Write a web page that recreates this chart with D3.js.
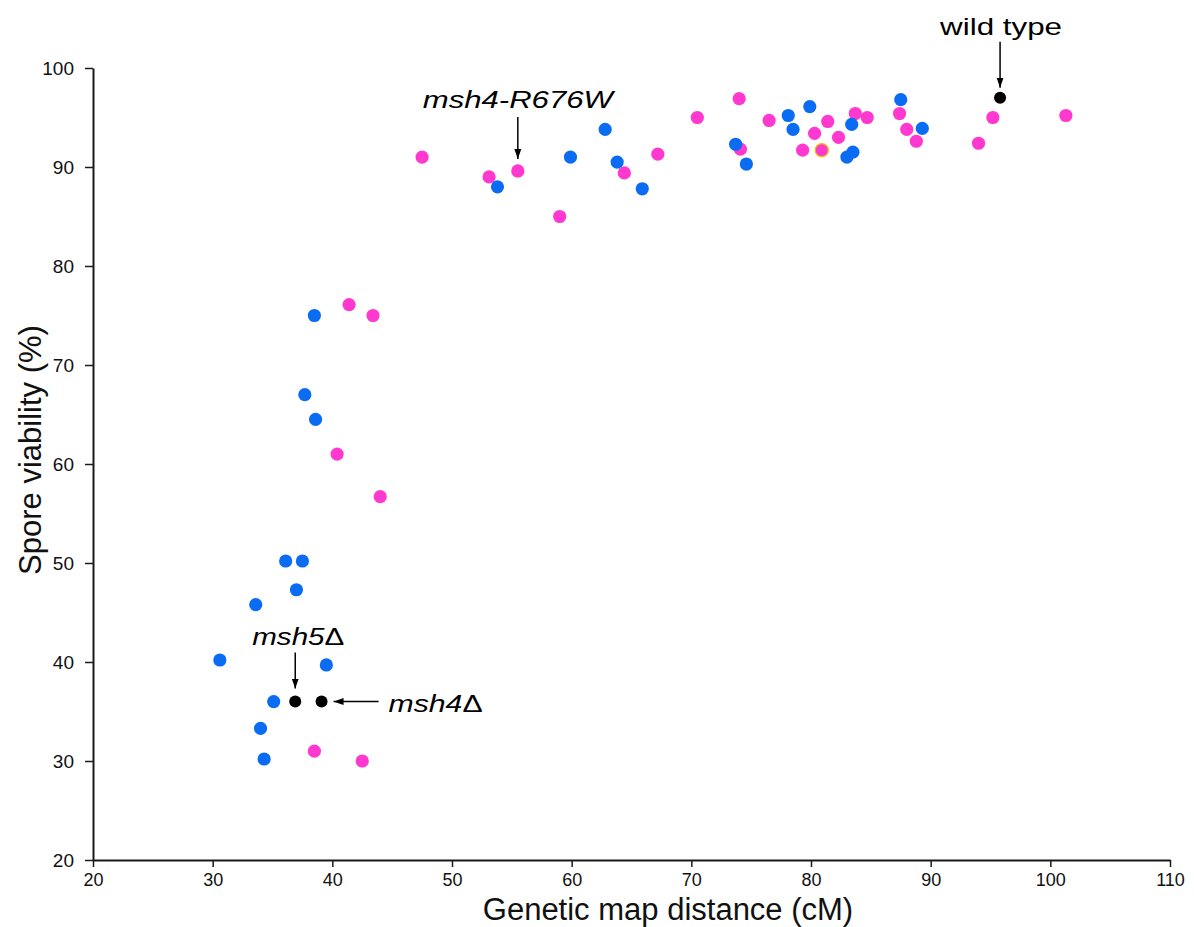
<!DOCTYPE html>
<html>
<head>
<meta charset="utf-8">
<script src="https://cdn.jsdelivr.net/npm/d3@7"></script>
<style>
  html, body { margin: 0; padding: 0; background: #fff; }
  svg { display: block; font-family: "Liberation Sans", Arial, sans-serif; }
</style>
</head>
<body>
<svg id="chart" width="1194" height="927"></svg>
<script>
// Genetic map distance (cM) vs spore viability (%)
const xTicks = [20, 30, 40, 50, 60, 70, 80, 90, 100, 110];
const yTicks = [20, 30, 40, 50, 60, 70, 80, 90, 100];

// blue series
const blueX = [53.8, 59.9, 62.8, 63.8, 65.9, 73.7, 74.6, 78.1, 78.5, 79.9, 83.4, 83.5, 83.0, 87.5, 89.3,
               38.5, 37.7, 38.6, 36.1, 37.5, 37.0, 33.6, 30.6, 39.5, 35.1, 34.0, 34.3];
const blueY = [88.0, 91.0, 93.8, 90.5, 87.8, 92.3, 90.3, 95.2, 93.8, 96.1, 94.3, 91.5, 91.0, 96.8, 93.9,
               75.0, 67.0, 64.5, 50.2, 50.2, 47.3, 45.8, 40.2, 39.7, 36.0, 33.3, 30.2];

// magenta series
const pinkX = [47.5, 53.1, 55.5, 59.0, 64.4, 67.2, 70.5, 74.0, 76.5, 74.1, 80.3, 81.4, 79.3, 80.9, 82.3,
               83.7, 84.7, 87.4, 88.0, 88.8, 95.2, 94.0, 101.3, 41.4, 43.4, 40.4, 44.0, 38.5, 42.5];
const pinkY = [91.0, 89.0, 89.6, 85.0, 89.4, 91.3, 95.0, 96.9, 94.7, 91.8, 93.4, 94.6, 91.7, 91.7, 93.0,
               95.4, 95.0, 95.4, 93.8, 92.6, 95.0, 92.4, 95.2, 76.1, 75.0, 61.0, 56.7, 31.0, 30.0];
const pinkOutlined = [13]; // point drawn with a yellow rim

// reference strains (black)
const refNames = ["wild type", "msh5", "msh4"];
const refX = [95.8, 36.9, 39.1];
const refY = [97.0, 36.0, 36.0];

const svg = d3.select("#chart");
const x = d3.scaleLinear().domain([20, 110]).range([93, 1170]);
const y = d3.scaleLinear().domain([20, 100]).range([860, 68]);

const axisColor = "#1a1a1a";

// axes
const gx = svg.append("g").attr("transform", "translate(0,860)")
  .call(d3.axisBottom(x).tickValues(xTicks).tickSize(7).tickSizeOuter(0).tickPadding(6));
const gy = svg.append("g").attr("transform", "translate(93,0)")
  .call(d3.axisLeft(y).tickValues(yTicks).tickSize(8).tickSizeOuter(0).tickPadding(11));
[gx, gy].forEach(g => {
  g.select(".domain").attr("stroke", axisColor).attr("stroke-width", 2);
  g.selectAll(".tick line").attr("stroke", axisColor).attr("stroke-width", 1.5);
  g.selectAll(".tick text").attr("fill", "#111")
    .style("font-family", "'Liberation Sans', Arial, sans-serif");
});
gy.selectAll(".tick text").style("font-size", "19px");
gx.selectAll(".tick text").style("font-size", "18px").attr("dy", "0.72em");

// axis titles
svg.append("text").attr("x", 668).attr("y", 920).attr("text-anchor", "middle")
  .style("font-size", "31px").attr("fill", "#111").text("Genetic map distance (cM)");
svg.append("text").attr("transform", "translate(41,450) rotate(-90)").attr("text-anchor", "middle")
  .style("font-size", "31px").attr("fill", "#111").text("Spore viability (%)");

// points
const pink = pinkX.map((v, i) => ({ x: v, y: pinkY[i], outlined: pinkOutlined.includes(i) }));
const blue = blueX.map((v, i) => ({ x: v, y: blueY[i] }));
const refs = refX.map((v, i) => ({ x: v, y: refY[i], name: refNames[i] }));

svg.append("g").selectAll("circle").data(pink).join("circle")
  .attr("cx", d => x(d.x)).attr("cy", d => y(d.y)).attr("r", 6.6)
  .attr("fill", "#ff38cf")
  .attr("stroke", d => d.outlined ? "#f2c200" : "none")
  .attr("stroke-width", d => d.outlined ? 1.3 : 0);

svg.append("g").selectAll("circle").data(blue).join("circle")
  .attr("cx", d => x(d.x)).attr("cy", d => y(d.y)).attr("r", 6.6)
  .attr("fill", "#0a6cf2");

svg.append("g").selectAll("circle").data(refs).join("circle")
  .attr("cx", d => x(d.x)).attr("cy", d => y(d.y)).attr("r", 6)
  .attr("fill", "#000");

// arrow marker
svg.append("defs").append("marker")
  .attr("id", "head").attr("viewBox", "0 0 10 10").attr("refX", 10).attr("refY", 5)
  .attr("markerWidth", 10).attr("markerHeight", 10).attr("markerUnits", "userSpaceOnUse")
  .attr("orient", "auto")
  .append("path").attr("d", "M0,1.5 L10,5 L0,8.5 Z").attr("fill", "#000");

function arrow(x1, y1, x2, y2) {
  svg.append("line").attr("x1", x1).attr("y1", y1).attr("x2", x2).attr("y2", y2)
    .attr("stroke", "#000").attr("stroke-width", 1.5).attr("marker-end", "url(#head)");
}
function label(txt, lx, ly, width, italic) {
  svg.append("text").attr("x", lx).attr("y", ly)
    .attr("textLength", width).attr("lengthAdjust", "spacingAndGlyphs")
    .style("font-size", "24px").style("font-style", italic ? "italic" : "normal")
    .attr("fill", "#000").text(txt);
}
// italic gene name followed by an upright deletion sign
function deletionLabel(gene, lx, ly, width) {
  const t = svg.append("text").attr("x", lx).attr("y", ly)
    .attr("textLength", width).attr("lengthAdjust", "spacingAndGlyphs")
    .style("font-size", "24px").attr("fill", "#000");
  t.append("tspan").style("font-style", "italic").text(gene);
  t.append("tspan").style("font-style", "normal").text("Δ");
}

// wild type
const wt = refs[0];
arrow(x(wt.x), y(wt.y) - 56, x(wt.x), y(wt.y) - 10);
label("wild type", x(wt.x) - 60, y(wt.y) - 63, 122, false);

// msh5Δ
const m5 = refs[1];
arrow(x(m5.x), y(m5.y) - 49, x(m5.x), y(m5.y) - 13);
deletionLabel(m5.name, x(m5.x) - 43, y(m5.y) - 57, 92);

// msh4Δ
const m4 = refs[2];
arrow(x(m4.x) + 57, y(m4.y), x(m4.x) + 12, y(m4.y));
deletionLabel(m4.name, x(m4.x) + 67, y(m4.y) + 10, 94);

// msh4-R676W (magenta point)
const r676 = pink[2];
arrow(x(r676.x), y(r676.y) - 54, x(r676.x), y(r676.y) - 12);
label("msh4-R676W", x(r676.x) - 95, y(r676.y) - 63, 190, true);
</script>
</body>
</html>
